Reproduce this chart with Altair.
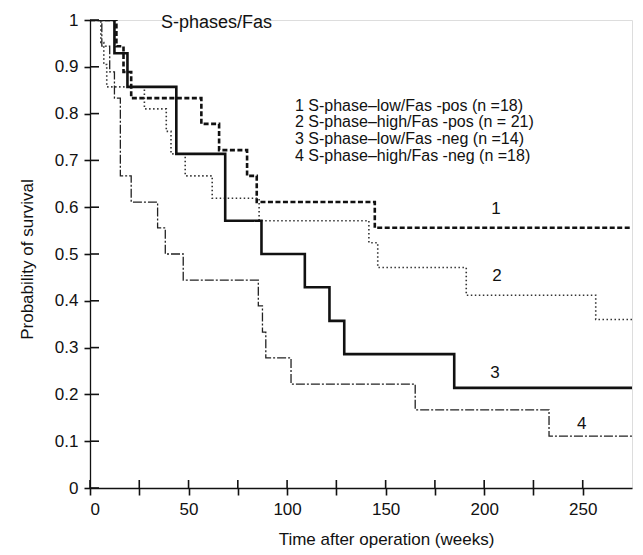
import altair as alt
import pandas as pd

T_MAX = 275

# Kaplan-Meier step curves (time in weeks, survival probability)
times_1 = [0, 13.4, 17, 20.9, 56.5, 65.5, 79.7, 84.6, 144.5]
surv_1 = [1, 0.944, 0.889, 0.833, 0.778, 0.722, 0.667, 0.611, 0.556]
times_2 = [0, 5.5, 7, 8.5, 27.6, 38.7, 41.1, 48.3, 62, 85.8, 141.5, 146, 190.9, 256.6]
surv_2 = [1, 0.952, 0.905, 0.857, 0.810, 0.762, 0.714, 0.667, 0.619, 0.571, 0.524, 0.471, 0.412, 0.360]
times_3 = [0, 12.4, 19, 43.8, 68.6, 87, 109, 121.5, 129, 184.8]
surv_3 = [1, 0.929, 0.857, 0.714, 0.571, 0.5, 0.429, 0.357, 0.286, 0.214]
times_4 = [0, 6, 10, 12.4, 15.4, 20.9, 34.3, 38.2, 47.3, 85.4, 87.5, 89.2, 102, 165, 232.9]
surv_4 = [1, 0.944, 0.889, 0.833, 0.667, 0.611, 0.556, 0.5, 0.444, 0.389, 0.333, 0.278, 0.222, 0.167, 0.111]

curve_ids = ["1", "2", "3", "4"]
legend_lines = [
    "1 S-phase\u2013low/Fas -pos (n =18)",
    "2 S-phase\u2013high/Fas -pos (n = 21)",
    "3 S-phase\u2013low/Fas -neg (n =14)",
    "4 S-phase\u2013high/Fas -neg (n =18)",
]
title_text = "S-phases/Fas"
x_ticks = list(range(0, 251, 25))
y_ticks = [round(i / 10, 1) for i in range(0, 11)]

# annotation anchors (data coordinates)
legend_t = 104.0
legend_s = [0.817, 0.781, 0.746, 0.710]
title_t, title_s = 36.0, 0.994
label_t = [206.0, 206.5, 205.5, 249.5]
label_s = [0.597, 0.452, 0.246, 0.137]

FONT = "Liberation Sans"
BLACK = "#111111"

curves = [(times_1, surv_1), (times_2, surv_2), (times_3, surv_3), (times_4, surv_4)]
styles = {
    "1": dict(strokeWidth=2.6, strokeDash=[5, 2.5], color=BLACK),
    "2": dict(strokeWidth=1.6, strokeDash=[1.5, 2.5], color="#333333"),
    "3": dict(strokeWidth=2.6, strokeDash=[1, 0], color=BLACK),
    "4": dict(strokeWidth=1.3, strokeDash=[9, 2, 2, 2], color="#222222"),
}

x_axis = alt.Axis(
    values=x_ticks,
    labelExpr="datum.value % 50 == 0 ? datum.label : ''",
    grid=False, tickSize=7, tickWidth=1.6, tickColor=BLACK,
    domainColor=BLACK, domainWidth=1.3,
    labelFont=FONT, labelFontSize=17, labelColor=BLACK, labelPadding=6,
    title="Time after operation (weeks)", titleFont=FONT, titleFontSize=17,
    titleFontWeight="normal", titleColor=BLACK,
    titleX=296, titleY=51, titleBaseline="middle", titleAlign="center",
)
y_axis = alt.Axis(
    values=y_ticks, format="~g",
    grid=False, tickSize=6, tickWidth=1.6, tickColor=BLACK,
    domainColor=BLACK, domainWidth=1.3,
    labelFont=FONT, labelFontSize=17, labelColor=BLACK, labelPadding=6,
    title="Probability of survival", titleFont=FONT, titleFontSize=17,
    titleFontWeight="normal", titleColor=BLACK,
    titleX=-63, titleY=239, titleBaseline="middle", titleAlign="center", titleAngle=-90,
)
x_scale = alt.Scale(domain=[0, T_MAX], nice=False, zero=False)
y_scale = alt.Scale(domain=[0, 1], nice=False)

layers = []
for cid, (tt, ss) in zip(curve_ids, curves):
    df = pd.DataFrame({"t": tt + [T_MAX], "s": ss + [ss[-1]]})
    st = styles[cid]
    layers.append(
        alt.Chart(df).mark_line(
            interpolate="step-after", strokeWidth=st["strokeWidth"],
            strokeDash=st["strokeDash"], color=st["color"], clip=True,
        ).encode(
            x=alt.X("t:Q", scale=x_scale, axis=x_axis),
            y=alt.Y("s:Q", scale=y_scale, axis=y_axis),
        )
    )

# inner halves of the crossing tick marks
xt = pd.DataFrame({"t": x_ticks})
layers.append(
    alt.Chart(xt).mark_rule(color=BLACK, strokeWidth=1.6).encode(
        x="t:Q", y=alt.value(468), y2=alt.value(460)
    )
)
yt = pd.DataFrame({"s": y_ticks})
layers.append(
    alt.Chart(yt).mark_rule(color=BLACK, strokeWidth=1.6).encode(
        y="s:Q", x=alt.value(0), x2=alt.value(9)
    )
)

# title text
layers.append(
    alt.Chart(pd.DataFrame({"t": [title_t], "s": [title_s], "label": [title_text]}))
    .mark_text(align="left", baseline="middle", font=FONT, fontSize=18, color=BLACK)
    .encode(x="t:Q", y="s:Q", text="label:N")
)
# legend lines
layers.append(
    alt.Chart(pd.DataFrame({"t": [legend_t] * 4, "s": legend_s, "label": legend_lines}))
    .mark_text(align="left", baseline="middle", font=FONT, fontSize=16, color=BLACK)
    .encode(x="t:Q", y="s:Q", text="label:N")
)
# curve numbers
layers.append(
    alt.Chart(pd.DataFrame({"t": label_t, "s": label_s, "label": curve_ids}))
    .mark_text(align="center", baseline="middle", font=FONT, fontSize=17, color=BLACK)
    .encode(x="t:Q", y="s:Q", text="label:N")
)

chart = alt.layer(*layers).properties(
    width=542,
    height=468,
    autosize=alt.AutoSizeParams(type="none"),
    padding={"left": 82, "top": 12, "right": 2, "bottom": 60},
).configure_view(stroke=None).configure(background="white")

chart.save("out.html", embed_options={"renderer": "svg", "actions": False})
